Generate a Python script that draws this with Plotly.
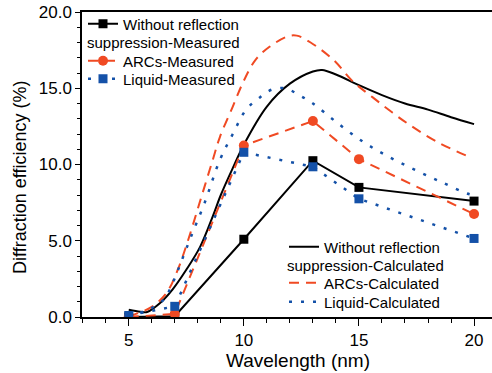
import plotly.graph_objects as go

# Measured data
x_meas = [5, 7, 10, 13, 15, 20]
y_without_meas = [0.0, 0.05, 5.1, 10.25, 8.5, 7.6]
y_arcs_meas = [0.0, 0.2, 11.25, 12.85, 10.35, 6.75]
y_liquid_meas = [0.1, 0.7, 10.8, 9.85, 7.75, 5.15]

# Calculated curves
x_without_calc = [5.0, 5.5, 5.8, 6.35, 6.9, 7.5, 8.1, 8.65, 9.0, 9.5, 10.0, 11.0, 12.0, 13.0, 13.4, 14.0, 15.0, 16.0, 17.0, 18.0, 19.0, 20.0]
y_without_calc = [0.48, 0.35, 0.33, 0.9, 1.8, 3.1, 4.6, 6.6, 8.0, 9.7, 11.3, 13.8, 15.3, 16.1, 16.2, 15.9, 15.2, 14.55, 14.0, 13.6, 13.1, 12.65]

x_arcs_calc = [5.0, 5.4, 6.0, 6.65, 7.13, 7.57, 8.1, 8.65, 8.96, 9.52, 10.0, 10.5, 11.1, 11.9, 12.3, 12.9, 13.9, 14.7, 15.6, 17.1, 18.5, 19.8]
y_arcs_calc = [0.02, 0.25, 0.66, 1.6, 3.1, 5.0, 7.6, 10.3, 11.8, 13.8, 15.5, 16.85, 17.7, 18.4, 18.45, 18.0, 16.85, 15.5, 14.4, 12.7, 11.4, 10.5]

x_liquid_calc = [5.0, 5.2, 5.8, 6.5, 6.9, 7.3, 7.7, 8.3, 8.96, 9.52, 10.1, 10.7, 11.2, 11.8, 12.4, 13.0, 14.0, 15.17, 16.3, 17.5, 18.65, 19.7, 20.0]
y_liquid_calc = [0.05, 0.13, 0.46, 1.1, 2.2, 3.7, 5.25, 7.5, 10.3, 12.0, 13.6, 14.4, 14.9, 15.0, 14.55, 14.0, 12.8, 11.5, 10.5, 9.6, 8.8, 8.1, 8.0]

# Legend texts
names_meas = ["Without reflection", "ARCs-Measured", "Liquid-Measured"]
names_calc = ["Without reflection", "ARCs-Calculated", "Liquid-Calculated"]
second_line_meas = "suppression-Measured"
second_line_calc = "suppression-Calculated"

BLACK = "#000000"
ORANGE = "#F04A23"
BLUE = "#1451A8"
FONT = "Liberation Sans, Arial, sans-serif"
DASH = "10px,7px"
DOT = "3px,9px"

fig = go.Figure()

# Calculated curves
fig.add_trace(go.Scatter(x=x_without_calc, y=y_without_calc, mode="lines", line=dict(color=BLACK, width=2, shape="spline"),
                         name=names_calc[0], legend="legend4", showlegend=True))
fig.add_trace(go.Scatter(x=x_arcs_calc, y=y_arcs_calc, mode="lines", line=dict(color=ORANGE, width=2, dash=DASH, shape="spline"),
                         name=names_calc[1], legend="legend5", showlegend=True))
fig.add_trace(go.Scatter(x=x_liquid_calc, y=y_liquid_calc, mode="lines", line=dict(color=BLUE, width=2.5, dash=DOT, shape="spline"),
                         name=names_calc[2], legend="legend6", showlegend=True))

# Measured
fig.add_trace(go.Scatter(x=x_meas, y=y_without_meas, mode="lines+markers", line=dict(color=BLACK, width=2),
                         marker=dict(symbol="square", size=9, color=BLACK),
                         name=names_meas[0], legend="legend", showlegend=True))
fig.add_trace(go.Scatter(x=x_meas, y=y_arcs_meas, mode="lines+markers", line=dict(color=ORANGE, width=2, dash=DASH),
                         marker=dict(symbol="circle", size=10, color=ORANGE),
                         name=names_meas[1], legend="legend2", showlegend=True))
fig.add_trace(go.Scatter(x=x_meas, y=y_liquid_meas, mode="lines+markers", line=dict(color=BLUE, width=2.5, dash=DOT),
                         marker=dict(symbol="square", size=9, color=BLUE),
                         name=names_meas[2], legend="legend3", showlegend=True))

W, H = 492, 373
L, R, T, B = 82, 0, 12, 56

def px_x(p):
    return (p - L) / (W - L - R)

def px_y(p):
    return (H - B - p) / (H - T - B)

def leg(xp, yp):
    return dict(x=px_x(xp), y=px_y(yp), xanchor="left", yanchor="middle", bgcolor="rgba(0,0,0,0)",
                font=dict(family=FONT, size=15), tracegroupgap=0, visible=True)

fig.update_layout(
    width=W, height=H,
    margin=dict(l=L, r=R, t=T, b=B),
    paper_bgcolor="white", plot_bgcolor="white",
    font=dict(family=FONT, size=15, color="black"),
    showlegend=True,
    legend=leg(83, 24),
    legend2=leg(83, 61),
    legend3=leg(83, 79),
    legend4=leg(284, 247),
    legend5=leg(284, 283),
    legend6=leg(284, 302),
    annotations=[
        dict(text=second_line_meas, x=px_x(85), y=px_y(43), xref="paper", yref="paper",
             xanchor="left", yanchor="middle", showarrow=False, font=dict(family=FONT, size=15)),
        dict(text=second_line_calc, x=px_x(285), y=px_y(265), xref="paper", yref="paper",
             xanchor="left", yanchor="middle", showarrow=False, font=dict(family=FONT, size=15)),
        dict(text="Diffraction efficiency (%)", x=px_x(20), y=px_y(178), xref="paper", yref="paper",
             xanchor="center", yanchor="middle", textangle=-90, showarrow=False, font=dict(family=FONT, size=18)),
        dict(text="Wavelength (nm)", x=px_x(298), y=px_y(360), xref="paper", yref="paper",
             xanchor="center", yanchor="middle", showarrow=False, font=dict(family=FONT, size=19)),
    ],
)

fig.update_xaxes(range=[2.97, 20.78], tick0=0, dtick=5, ticks="outside", ticklen=7, tickwidth=1,
                 tickcolor="black", showline=True, linecolor="black", linewidth=1.5, mirror=True,
                 showgrid=False, zeroline=False, tickfont=dict(family=FONT, size=17),
                 minor=dict(dtick=1, ticks="outside", ticklen=4, tickcolor="black", showgrid=False))
fig.update_yaxes(range=[0, 20], tick0=0, dtick=5, tickformat=".1f", ticks="outside", ticklen=5, tickwidth=1,
                 tickcolor="black", showline=True, linecolor="black", linewidth=1.5, mirror=False,
                 showgrid=False, zeroline=False, tickfont=dict(family=FONT, size=17),
                 minor=dict(dtick=1, ticks="outside", ticklen=3, tickcolor="black", showgrid=False))

fig.write_html("out.html", config={"displayModeBar": False},
               post_script="document.body.style.margin='0px';document.body.style.overflow='hidden';")
